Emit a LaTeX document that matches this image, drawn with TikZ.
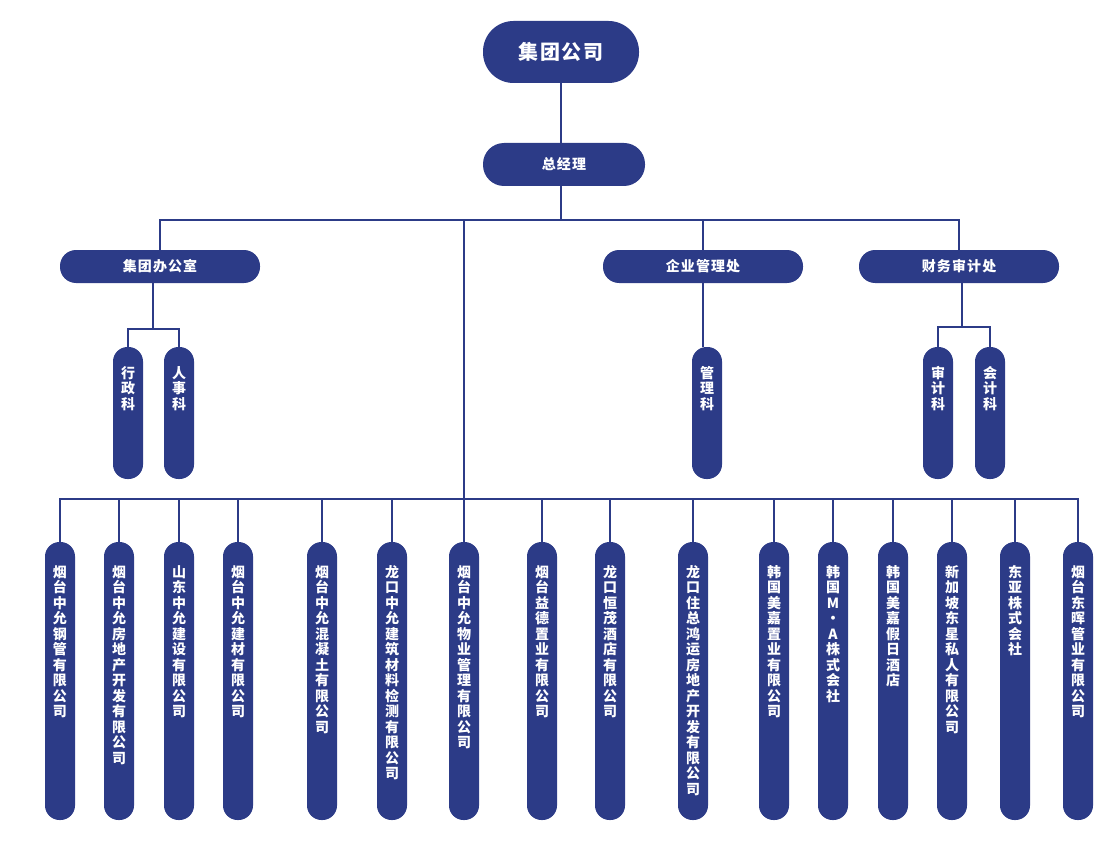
\documentclass[tikz,border=0pt]{standalone}
\usepackage{fontspec}
\newfontfamily\cjk{Noto Sans CJK SC}
\newfontfamily\cjkwide{Noto Sans CJK SC}[LetterSpace=8]
\usetikzlibrary{positioning}
\definecolor{navy}{RGB}{44,59,135}
\makeatletter
% stack the characters of #1 one under the other
\newcommand{\vtext}[1]{\def\vtsep{}\@tfor\vtch:=#1\do{\vtsep\vtch\def\vtsep{\\}}}
\makeatother

\begin{document}
\begin{tikzpicture}[x=1pt, y=-1pt,
  pill/.style={fill=navy, inner sep=0pt, text=white, font=\cjkwide\bfseries\fontsize{14pt}{16pt}\selectfont},
  head/.style={pill, minimum width=200pt, minimum height=33pt, rounded corners=16pt},
  sect/.style={pill, minimum width=30pt, text width=16pt, align=center, rounded corners=14.5pt,
    font=\cjk\bfseries\fontsize{14pt}{15.5pt}\selectfont, text height=31pt, text depth=101pt},
  unit/.style={sect, text height=35pt, text depth=243pt},
  wire/.style={draw=navy, line width=1.2pt}]
\useasboundingbox (0,0) rectangle (1119,853);

% top
\node[pill, minimum width=156pt, minimum height=62pt, rounded corners=30.5pt,
  font=\cjkwide\bfseries\fontsize{20pt}{24pt}\selectfont] (group) at (561,52) {集团公司};
\node[pill, minimum width=162pt, minimum height=43pt, rounded corners=21pt] (gm) at (564,164.5) {总经理};

% departments
\node[head] (office) at (160,266.5) {集团办公室};
\node[head] (mgmt) at (703,266.5) {企业管理处};
\node[head] (fin) at (959,266.5) {财务审计处};

\node[sect] (adm) at (128,413) {\vtext{行政科}};
\node[sect] (hr) at (179,413) {\vtext{人事科}};
\node[sect] (mg) at (707,413) {\vtext{管理科}};
\node[sect] (aud) at (938,413) {\vtext{审计科}};
\node[sect] (acc) at (990,413) {\vtext{会计科}};

% companies
\node[unit] (c1) at (60,681) {\vtext{烟台中允钢管有限公司}};
\node[unit] (c2) at (119,681) {\vtext{烟台中允房地产开发有限公司}};
\node[unit] (c3) at (179,681) {\vtext{山东中允建设有限公司}};
\node[unit] (c4) at (238,681) {\vtext{烟台中允建材有限公司}};
\node[unit] (c5) at (322,681) {\vtext{烟台中允混凝土有限公司}};
\node[unit] (c6) at (392,681) {\vtext{龙口中允建筑材料检测有限公司}};
\node[unit] (c7) at (464,681) {\vtext{烟台中允物业管理有限公司}};
\node[unit] (c8) at (542,681) {\vtext{烟台益德置业有限公司}};
\node[unit] (c9) at (610,681) {\vtext{龙口恒茂酒店有限公司}};
\node[unit] (c10) at (693,681) {\vtext{龙口住总鸿运房地产开发有限公司}};
\node[unit] (c11) at (774,681) {\vtext{韩国美嘉置业有限公司}};
\node[unit] (c12) at (833,681) {\vtext{韩国}\\M\\·\\A\\\vtext{株式会社}};
\node[unit] (c13) at (893,681) {\vtext{韩国美嘉假日酒店}};
\node[unit] (c14) at (952,681) {\vtext{新加坡东星私人有限公司}};
\node[unit] (c15) at (1015,681) {\vtext{东亚株式会社}};
\node[unit] (c16) at (1078,681) {\vtext{烟台东晖管业有限公司}};

% lines
\coordinate (ubus) at (561,220);
\coordinate (lbus) at (464,499);
\coordinate (obus) at (153,329);
\coordinate (fbus) at (962,327);

\draw[wire] (group.south -| ubus) -- (gm.north -| ubus);
\draw[wire] (gm.south -| ubus) -- (ubus);
\draw[wire] (office.north) |- (fin.north |- ubus) -- (fin.north);
\draw[wire] (mgmt.north) -- (mgmt.north |- ubus);
\draw[wire] (c7.north |- ubus) -- (c7.north);

\draw[wire] (office.south -| obus) -- (obus);
\draw[wire] (adm.north) |- (obus) -| (hr.north);
\draw[wire] (mgmt.south) -- (mgmt.south |- mg.north);
\draw[wire] (fin.south -| fbus) -- (fbus);
\draw[wire] (aud.north) |- (fbus) -| (acc.north);

\draw[wire] (c1.north) |- (c16.north |- lbus) -- (c16.north);
\foreach \i in {2,...,15}
  \draw[wire] (c\i.north) -- (c\i.north |- lbus);
\end{tikzpicture}
\end{document}
